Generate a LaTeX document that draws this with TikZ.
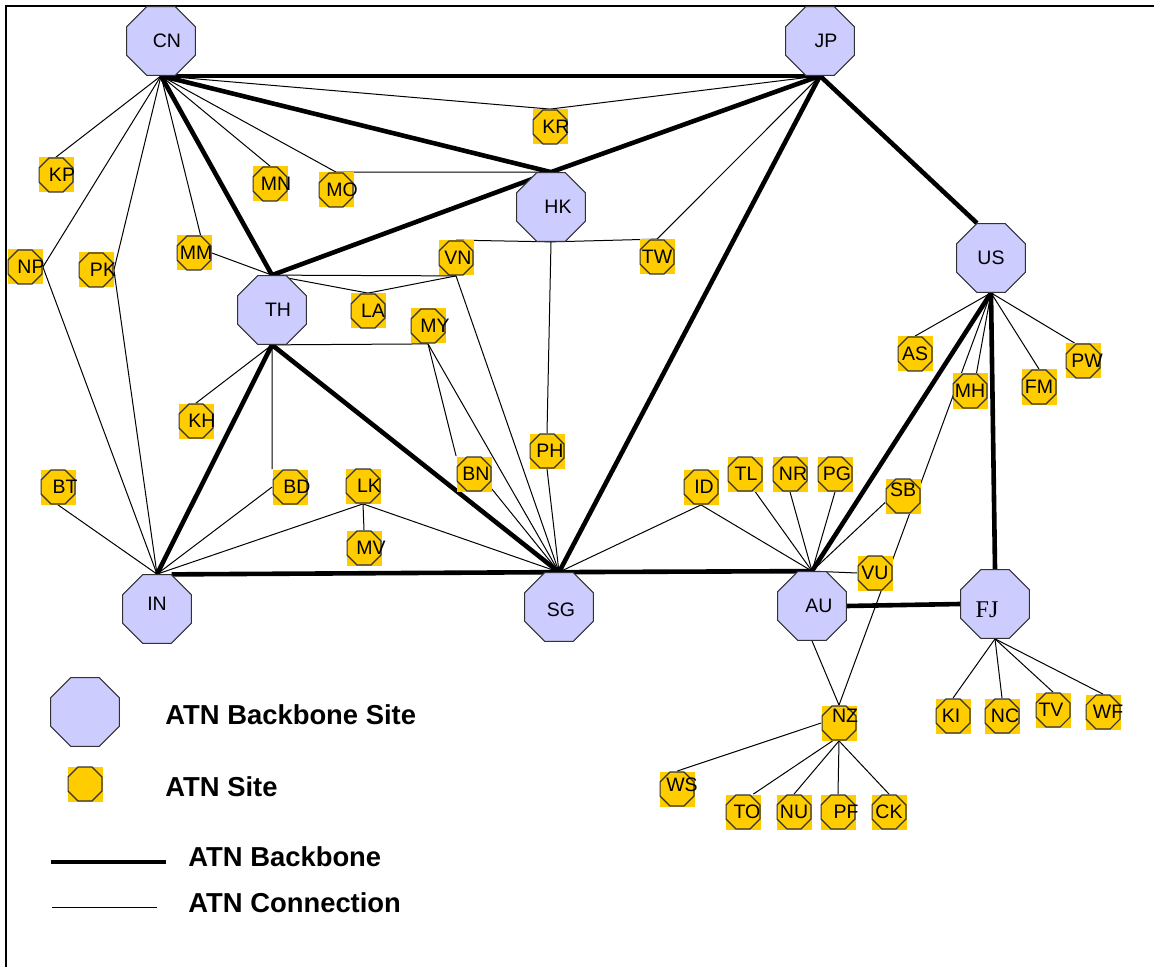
\documentclass[tikz,border=0pt]{standalone}
\usepackage{fontspec}
\setmainfont{Liberation Sans}
\newfontfamily\fjfont{Liberation Serif}
\usetikzlibrary{shapes.geometric}
\pgfdeclarelayer{edges}
\pgfsetlayers{edges,main}
\definecolor{bbfill}{RGB}{204,204,255}
\definecolor{sitefill}{RGB}{255,204,0}
\definecolor{octline}{RGB}{50,50,50}
\newcommand{\lbl}[2][6pt]{\makebox[0pt]{\hspace{#1}#2}}
\tikzset{
  bb/.style={regular polygon,regular polygon sides=8,minimum size=37.2pt,inner sep=0pt,
    draw=octline,fill=bbfill,line width=0.5pt,font=\fontsize{9.75}{11}\selectfont},
  site/.style={rectangle,minimum size=17.5pt,inner sep=0pt,fill=sitefill,
    font=\fontsize{9.75}{11}\selectfont,
    path picture={\draw[octline,line width=0.55pt]
      ([shift={(-3.5pt,-8.5pt)}]path picture bounding box.center) -- ++(7pt,0pt) -- ++(5pt,5pt)
      -- ++(0pt,7pt) -- ++(-5pt,5pt) -- ++(-7pt,0pt) -- ++(-5pt,-5pt) -- ++(0pt,-7pt) -- cycle;}},
  backbone/.style={line width=2.3pt},
  conn/.style={line width=0.5pt},
  legtext/.style={anchor=west,inner sep=0pt,font=\bfseries\fontsize{13.7}{16}\selectfont}
}
\begin{document}
\begin{tikzpicture}[x=0.5pt,y=-0.5pt]
\useasboundingbox (0,0) rectangle (1154,967);
\draw[line width=1.1pt] (6,967) -- (6,6) -- (1154,6);

\node[bb] (CN) at (161,41) {\lbl[6pt]{CN}};
\node[bb] (JP) at (820,41) {\lbl[6pt]{JP}};
\node[bb] (HK) at (551,207) {\lbl[7pt]{HK}};
\node[bb] (US) at (991,258) {\lbl[0pt]{US}};
\node[bb] (TH) at (272,310) {\lbl[6pt]{TH}};
\node[bb] (IN) at (157,609) {\lbl[0pt]{\raisebox{2.5pt}[\height][\depth]{IN}}};
\node[bb] (SG) at (559,607) {\lbl[2pt]{\raisebox{-1.3pt}[\height][\depth]{SG}}};
\node[bb] (AU) at (812,606) {\lbl[7pt]{AU}};
\node[bb] (FJ) at (995,604) {\fjfont\fontsize{12}{14}\selectfont\lbl[-8pt]{\raisebox{-3pt}[\height][\depth]{FJ}}};

\node[site] (KP) at (56,175) {\lbl[6pt]{KP}};
\node[site] (MN) at (270,184) {\lbl[6pt]{MN}};
\node[site] (MO) at (336,190) {\lbl[6pt]{MO}};
\node[site] (NP) at (25,267) {\lbl[6pt]{NP}};
\node[site] (PK) at (96,270) {\lbl[7pt]{PK}};
\node[site] (MM) at (194,253) {\lbl[2pt]{MM}};
\node[site] (KR) at (550,127) {\lbl[6pt]{KR}};
\node[site] (VN) at (456,258) {\lbl[2pt]{VN}};
\node[site] (TW) at (657,257) {\lbl[0pt]{TW}};
\node[site] (LA) at (368,311) {\lbl[5pt]{LA}};
\node[site] (MY) at (428,326) {\lbl[7pt]{MY}};
\node[site] (KH) at (196,421) {\lbl[6pt]{KH}};
\node[site] (BT) at (58,487) {\lbl[7pt]{BT}};
\node[site] (BD) at (290,487) {\lbl[7pt]{BD}};
\node[site] (LK) at (363,486) {\lbl[6pt]{LK}};
\node[site] (MV) at (364,548) {\lbl[7pt]{MV}};
\node[site] (BN) at (474,474) {\lbl[2pt]{BN}};
\node[site] (PH) at (547,451) {\lbl[3pt]{PH}};
\node[site] (ID) at (701,487) {\lbl[3pt]{ID}};
\node[site] (TL) at (745,474) {\lbl[1pt]{TL}};
\node[site] (NR) at (790,474) {\lbl[3pt]{NR}};
\node[site] (PG) at (835,474) {\lbl[2pt]{PG}};
\node[site] (AS) at (915,354) {\lbl[0pt]{AS}};
\node[site] (MH) at (970,391) {\lbl[0pt]{MH}};
\node[site] (FM) at (1039,387) {\lbl[0pt]{FM}};
\node[site] (PW) at (1083,361) {\lbl[4pt]{PW}};
\node[site] (SB) at (903,496) {\lbl[0pt]{\raisebox{3pt}[\height][\depth]{SB}}};
\node[site] (VU) at (875,573) {\lbl[0pt]{VU}};
\node[site] (NZ) at (839,723) {\lbl[6pt]{\raisebox{3.7pt}[\height][\depth]{NZ}}};
\node[site] (WS) at (677,789) {\lbl[5pt]{\raisebox{2.2pt}[\height][\depth]{WS}}};
\node[site] (TO) at (743,812) {\lbl[4pt]{TO}};
\node[site] (NU) at (794,812) {\lbl[0pt]{NU}};
\node[site] (PF) at (838,812) {\lbl[8pt]{PF}};
\node[site] (CK) at (889,812) {\lbl[0pt]{CK}};
\node[site] (KI) at (953,716) {\lbl[-2pt]{KI}};
\node[site] (NC) at (1002,716) {\lbl[3pt]{NC}};
\node[site] (TV) at (1053,710) {\lbl[-2pt]{TV}};
\node[site] (WF) at (1103,712) {\lbl[5pt]{WF}};

\begin{pgfonlayer}{edges}
\draw[backbone] (CN.south) -- (JP.south);
\draw[backbone] (CN.south) -- (HK.north);
\draw[backbone] (CN.south) -- (TH.north);
\draw[backbone] (JP.south) -- (HK.north);
\draw[backbone] (HK.north) -- (TH.north);
\draw[backbone] (JP.south) -- (US.112);
\draw[backbone] (JP.south) -- (SG.north);
\draw[backbone] (TH.south) -- (IN.north);
\draw[backbone] (TH.south) -- (SG.north);
\draw[backbone] (IN.67) -- (SG.north);
\draw[backbone] (SG.north) -- (AU.north);
\draw[backbone] (AU.north) -- (US.south);
\draw[backbone] (US.south) -- (FJ.north);
\draw[backbone] (AU.east) -- (FJ.west);

\draw[conn] (CN.south) -- (KP.north);
\draw[conn] (CN.south) -- (NP.east);
\draw[conn] (NP.east) -- (IN.north);
\draw[conn] (CN.south) -- (PK.east);
\draw[conn] (PK.east) -- (IN.north);
\draw[conn] (CN.south) -- (MM.70);
\draw[conn] (CN.south) -- (MN.north);
\draw[conn] (CN.south) -- (MO.north);
\draw[conn] (CN.south) -- (KR.north);
\draw[conn] (JP.south) -- (KR.north);
\draw[conn] (MO.north) -- (HK.north);
\draw[conn] (JP.south) -- (TW.north);
\draw[conn] (HK.south) -- (VN.north);
\draw[conn] (HK.south) -- (TW.north);
\draw[conn] (HK.south) -- (PH.north);
\draw[conn] (MM.east) -- (TH.north);
\draw[conn] (TH.north) -- (VN.south);
\draw[conn] (TH.north) -- (LA.north);
\draw[conn] (LA.north) -- (VN.south);
\draw[conn] (TH.south) -- (MY.south);
\draw[conn] (TH.south) -- (KH.north);
\draw[conn] (TH.south) -- (BD.north west);
\draw[conn] (BD.west) -- (IN.north);
\draw[conn] (BT.south) -- (IN.north);
\draw[conn] (LK.south) -- (IN.north);
\draw[conn] (LK.south) -- (MV.north);
\draw[conn] (LK.south) -- (SG.north);
\draw[conn] (MY.south) -- (BN.north west);
\draw[conn] (MY.south) -- (SG.north);
\draw[conn] (BN.-40) -- (SG.north);
\draw[conn] (VN.south) -- (SG.north);
\draw[conn] (PH.south) -- (SG.north);
\draw[conn] (ID.south) -- (SG.north);
\draw[conn] (ID.south) -- (AU.north);
\draw[conn] (TL.-60) -- (AU.north);
\draw[conn] (NR.south) -- (AU.north);
\draw[conn] (PG.south) -- (AU.north);
\draw[conn] (SB.-160) -- (AU.north);
\draw[conn] (AU.north) -- (VU.west);
\draw[conn] (AU.south) -- (NZ.north);
\draw[conn] (US.south) -- (NZ.north);
\draw[conn] (US.south) -- (AS.north);
\draw[conn] (US.south) -- (MH.70);
\draw[conn] (US.south) -- (FM.north);
\draw[conn] (US.south) -- (PW.115);
\draw[conn] (FJ.south) -- (KI.north);
\draw[conn] (FJ.south) -- (NC.north);
\draw[conn] (FJ.south) -- (TV.north);
\draw[conn] (FJ.south) -- (WF.north);
\draw[conn] (NZ.west) -- (WS.north);
\draw[conn] (NZ.-110) -- (TO.60);
\draw[conn] (NZ.south) -- (NU.north);
\draw[conn] (NZ.south) -- (PF.north);
\draw[conn] (NZ.south) -- (CK.north);
\end{pgfonlayer}

\node[bb] (lgbb) at (85,712) {};
\node[legtext] (lgbbtext) at (165,715) {ATN Backbone Site};
\node[site] (lgsite) at (85,784) {};
\node[legtext] (lgsitetext) at (165,787) {ATN Site};
\coordinate (lgbackA) at (51,862);
\coordinate (lgbackB) at (166,862);
\draw[backbone] (lgbackA) -- (lgbackB);
\node[legtext] (lgbacktext) at (188,857) {ATN Backbone};
\coordinate (lgconnA) at (52,907);
\coordinate (lgconnB) at (157,907);
\draw[conn] (lgconnA) -- (lgconnB);
\node[legtext] (lgconntext) at (188,903) {ATN Connection};
\end{tikzpicture}
\end{document}
